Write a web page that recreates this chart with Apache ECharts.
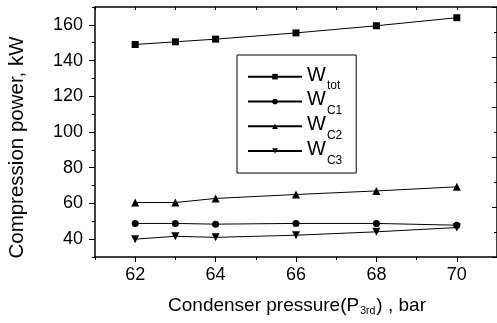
<!DOCTYPE html>
<html>
<head>
<meta charset="utf-8">
<script src="https://cdn.jsdelivr.net/npm/echarts@6/dist/echarts.min.js"></script>
<style>
  html, body { margin: 0; padding: 0; background: #fff; }
  #chart { width: 497px; height: 323px; }
</style>
</head>
<body>
<div id="chart"></div>
<script>
// Condenser pressure (bar) at which each point was evaluated
const pressures = [62, 63, 64, 66, 68, 70];

// Compression power (kW)
const wTot = [149, 150.5, 152, 155.5, 159.5, 164];
const wC1  = [48.8, 48.8, 48.4, 48.8, 48.8, 47.8];
const wC2  = [60.5, 60.5, 62.8, 65, 67, 69.3];
const wC3  = [40, 41.6, 41, 42.2, 44.1, 46.5];

// Series names and the subscripts shown after "W"
const seriesNames = ['Wtot', 'WC1', 'WC2', 'WC3'];
const subscripts  = ['tot', 'C1', 'C2', 'C3'];
const symbols     = ['rect', 'circle', 'triangle', 'triangle'];
const symbolRot   = [0, 0, 0, 180];
const symbolSizes = [7, 7, 8, 8];
const values      = [wTot, wC1, wC2, wC3];

const FONT = '"Liberation Sans", Arial, Helvetica, sans-serif';
const BLACK = '#000';

const chart = echarts.init(document.getElementById('chart'), null, { renderer: 'canvas' });

const lineAxis = { show: true, lineStyle: { color: BLACK, width: 1.5 } };
const noSplit = { show: false };

const series = seriesNames.map((name, i) => ({
  name,
  type: 'line',
  xAxisIndex: 0,
  yAxisIndex: 0,
  data: pressures.map((p, j) => [p, values[i][j]]),
  symbol: symbols[i],
  symbolRotate: symbolRot[i],
  symbolSize: symbolSizes[i],
  showAllSymbol: true,
  itemStyle: { color: BLACK },
  lineStyle: { color: BLACK, width: 1 },
  z: 3
}));

const option = {
  animation: false,
  backgroundColor: '#fff',
  grid: { left: 95, top: 7, width: 402, height: 250 },
  xAxis: [
    { // labelled bottom axis, major ticks every 2 bar
      type: 'value', min: 61, max: 71, splitNumber: 5, position: 'bottom',
      axisLine: lineAxis,
      axisTick: { show: true, length: 5, lineStyle: { color: BLACK, width: 1 } },
      axisLabel: { showMinLabel: false, showMaxLabel: false, color: BLACK,
                   fontSize: 18, fontFamily: FONT, margin: 9 },
      splitLine: noSplit
    },
    { // minor ticks on the bottom axis
      type: 'value', min: 61, max: 71, interval: 1, position: 'bottom',
      axisLine: { show: false },
      axisTick: { show: true, length: 3, lineStyle: { color: BLACK, width: 1 } },
      axisLabel: { show: false }, splitLine: noSplit
    },
    { // top frame with inward ticks
      type: 'value', min: 61, max: 71, interval: 1, position: 'top',
      axisLine: lineAxis,
      axisTick: { show: true, inside: true, length: 3, lineStyle: { color: BLACK, width: 1 } },
      axisLabel: { show: false }, splitLine: noSplit
    }
  ],
  yAxis: [
    { // labelled left axis, major ticks every 20 kW
      type: 'value', min: 30, max: 170, splitNumber: 7, position: 'left',
      axisLine: lineAxis,
      axisTick: { show: true, length: 6, lineStyle: { color: BLACK, width: 1 } },
      axisLabel: { showMinLabel: false, showMaxLabel: false, color: BLACK,
                   fontSize: 18, fontFamily: FONT, margin: 12 },
      splitLine: noSplit
    },
    { // minor ticks on the left axis
      type: 'value', min: 30, max: 170, interval: 10, position: 'left',
      axisLine: { show: false },
      axisTick: { show: true, length: 3, lineStyle: { color: BLACK, width: 1 } },
      axisLabel: { show: false }, splitLine: noSplit
    },
    { // right frame, major inward ticks
      type: 'value', min: 0, max: 10, interval: 2, position: 'right',
      axisLine: lineAxis,
      axisTick: { show: true, inside: true, length: 5, lineStyle: { color: BLACK, width: 1 } },
      axisLabel: { show: false }, splitLine: noSplit
    },
    { // right frame, minor inward ticks
      type: 'value', min: 0, max: 10, interval: 1, position: 'right',
      axisLine: { show: false },
      axisTick: { show: true, inside: true, length: 3, lineStyle: { color: BLACK, width: 1 } },
      axisLabel: { show: false }, splitLine: noSplit
    }
  ],
  legend: {
    orient: 'vertical',
    left: 237, top: 55,
    padding: [6.5, 14, 6.8, 10],
    itemWidth: 54, itemHeight: 7, itemGap: -5.5,
    borderColor: BLACK, borderWidth: 1, backgroundColor: '#fff',
    data: seriesNames,
    formatter: name => '{w|W}{s|' + subscripts[seriesNames.indexOf(name)] + '}',
    textStyle: {
      color: BLACK, fontFamily: FONT,
      rich: {
        w: { fontSize: 20, lineHeight: 20, verticalAlign: 'top', padding: [3.6, 0, 0, 0],
             color: BLACK, fontFamily: FONT },
        s: { fontSize: 12, lineHeight: 30.3, verticalAlign: 'bottom', padding: [0, 0, 0, 1],
             color: BLACK, fontFamily: FONT }
      }
    }
  },
  graphic: [
    { // y-axis title
      type: 'text', x: 17, y: 147.5, rotation: Math.PI / 2,
      style: { text: 'Compression power, kW', fill: BLACK, font: '20.5px ' + FONT,
               align: 'center', verticalAlign: 'middle' }
    },
    { // x-axis title with subscript
      type: 'text', x: 297, y: 306.5,
      style: {
        text: '{m|Condenser pressure(P}{s|3rd}{m|) , bar}',
        align: 'center', verticalAlign: 'middle', fill: BLACK,
        rich: {
          m: { fontSize: 19, lineHeight: 19, verticalAlign: 'top', fontFamily: FONT, fill: BLACK },
          s: { fontSize: 10.5, lineHeight: 21, verticalAlign: 'bottom', padding: [0, 1, 0, 1],
               fontFamily: FONT, fill: BLACK }
        }
      }
    }
  ],
  series
};

chart.setOption(option);
</script>
</body>
</html>
